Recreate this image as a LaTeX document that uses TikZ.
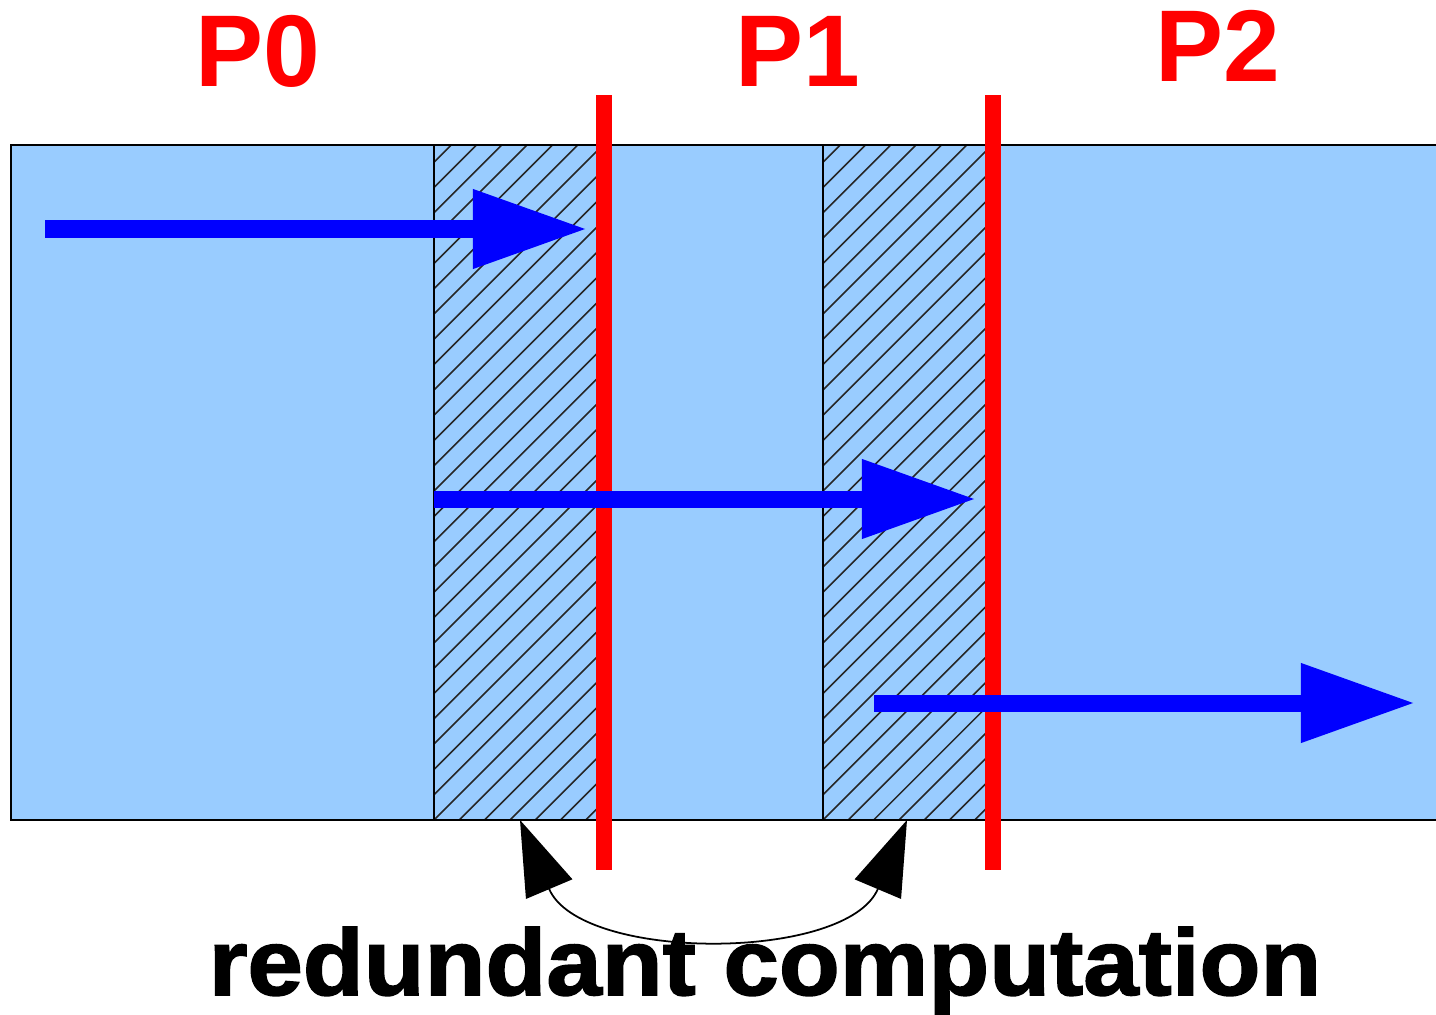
\documentclass[tikz,border=0pt]{standalone}
\usepackage{fontspec}
\setmainfont{Liberation Sans}
\newfontfamily\heavyfont{Liberation Sans Bold}[FakeBold=1.6]
\usetikzlibrary{arrows.meta}
\definecolor{domainblue}{HTML}{99CCFF}
\tikzset{
  flow/.style={draw=blue, line width=0.17cm,
    -{Triangle[length=1.14cm, width=0.75cm]}},
  border/.style={red, line width=0.165cm},
  hatch/.style={black!85, line width=0.45pt},
  plabel/.style={text=red, font=\fontsize{29}{30}\selectfont\bfseries, inner sep=0pt, anchor=base west},
  bighead/.tip={Triangle[length=0.75cm, width=0.5cm]},
}
\begin{document}
\begin{tikzpicture}[x=0.01cm, y=-0.01cm]
  \useasboundingbox (0,0) rectangle (1436,1015);

  % domain strip
  \fill[domainblue] (11,145) rectangle (1440,820);

  % overlap (ghost) zones, hatched
  \foreach \xa/\xb in {434/604, 823/993} {
    \begin{scope}
      \clip (\xa,145) rectangle (\xb,820);
      \foreach \k in {-30,...,10}
        \draw[hatch] (\xa+\k*25.3,820) -- ++(700,-700);
    \end{scope}
    \draw[line width=0.5pt] (\xa,145) -- (\xa,820);
  }
  \draw[line width=0.6pt] (1440,145) -- (11,145) -- (11,820) -- (1440,820);

  % partition boundaries
  \coordinate (b1top) at (604,95);  \coordinate (b1bot) at (604,870);
  \coordinate (b2top) at (993,95);  \coordinate (b2bot) at (993,870);
  \draw[border] (b1top) -- (b1bot);
  \draw[border] (b2top) -- (b2bot);

  % sweeps
  \coordinate (s0) at (45,229);   \coordinate (e0) at (587,229);
  \coordinate (s1) at (434,499);  \coordinate (e1) at (976,499);
  \coordinate (s2) at (874,703);  \coordinate (e2) at (1415,703);
  \draw[flow] (s0) -- (e0);
  \draw[flow] (s1) -- (e1);
  \draw[flow] (s2) -- (e2);

  % processor labels
  \node[plabel] (p0) at (195,86) {P0};
  \node[plabel] (p1) at (735,87) {P1};
  \node[plabel] (p2) at (1155,81) {P2};

  % redundant computation marker
  \coordinate (rl) at (520,820);
  \coordinate (rr) at (907,820);
  \draw[line width=0.5pt, bighead-bighead]
    (rl) .. controls (580,962) and (847,962) .. (rr);
  \node[inner sep=0pt, anchor=base west] (rc) at (208,995)
    {\resizebox{11.12cm}{0.68cm}{\heavyfont redundant computation}};
\end{tikzpicture}
\end{document}
